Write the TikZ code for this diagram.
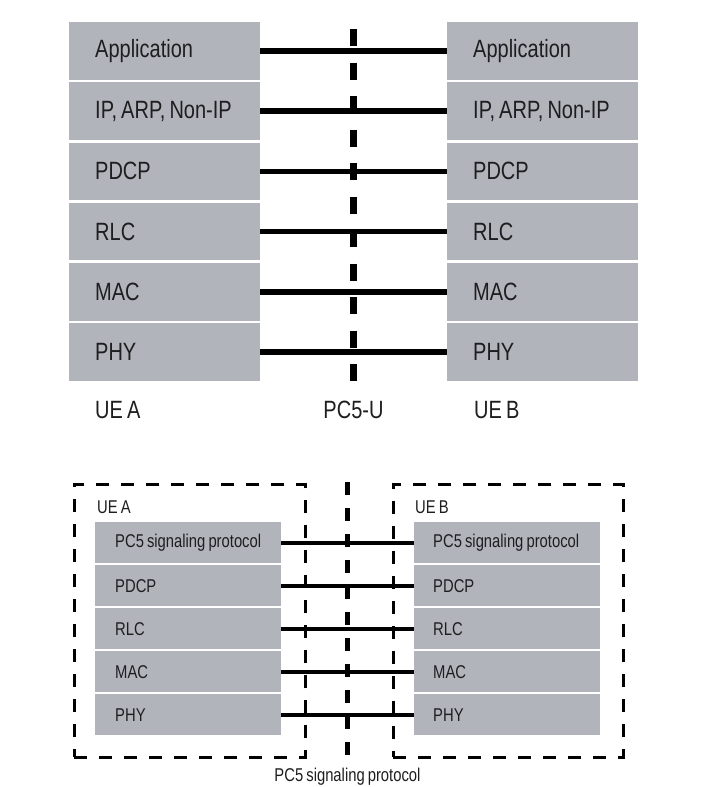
\documentclass[tikz,border=0pt]{standalone}
\usepackage{fontspec}
\setmainfont{Liberation Sans}[FakeStretch=0.8, WordSpace=0.75]
\newcommand{\boxtxt}[2]{\hbox to #1{#2\hfil}}
\begin{document}
\begin{tikzpicture}[x=1pt,y=-1pt,
  every node/.style={text=txt},
  bigbox/.style={fill=boxgray, anchor=north west, minimum width=191pt, minimum height=57.5pt,
    inner xsep=0pt, inner ysep=0pt, font=\fontsize{25}{29}\selectfont},
  smallbox/.style={fill=boxgray, anchor=north west, minimum width=186pt, minimum height=41pt,
    inner xsep=0pt, inner ysep=0pt, font=\fontsize{18.5}{22}\selectfont},
  biglabel/.style={font=\fontsize{25}{29}\selectfont, inner sep=0pt},
  smalllabel/.style={font=\fontsize{18.5}{22}\selectfont, inner sep=0pt},
  bigline/.style={line width=5.5pt, draw=black},
  smallline/.style={line width=3.6pt, draw=black},
  bigdash/.style={line width=7pt, draw=black, dash pattern=on 17pt off 16.5pt},
  middash/.style={line width=5.5pt, draw=black, dash pattern=on 13pt off 13pt},
  uebox/.style={draw=black, line width=2.6pt, dash pattern=on 13pt off 12pt, anchor=north west, inner sep=0pt},
]
\definecolor{boxgray}{RGB}{177,180,187}
\definecolor{txt}{RGB}{30,30,32}
\useasboundingbox (0,0) rectangle (718,787);
\fill[white] (0,0) rectangle (718,787);

% ---------- top stack ----------
\foreach \t [count=\i from 0] in {Application,{IP, ARP, Non-IP},PDCP,RLC,MAC,PHY}{
  \node[bigbox] (L\i) at (69,22+60.2*\i) {\boxtxt{139pt}{\t}};
  \node[bigbox] (R\i) at (447,22+60.2*\i) {\boxtxt{139pt}{\t}};
}
\coordinate (dtop) at (353.5,29);
\coordinate (dbot) at (353.5,381);
\draw[bigdash] (dtop) -- (dbot);
\foreach \i in {0,...,5}{
  \draw[bigline] (L\i.east) -- (R\i.west);
}
\node[biglabel, anchor=west] (uea) at (95,410) {UE A};
\node[biglabel] (pc5u) at (353.5,410) {PC5-U};
\node[biglabel, anchor=west] (ueb) at (474,410) {UE B};

% ---------- bottom stack ----------
\node[uebox, minimum width=231pt, minimum height=273pt] (boxA) at (73,483) {};
\node[uebox, minimum width=230pt, minimum height=273pt] (boxB) at (392,483) {};
\foreach \t [count=\i from 0] in {PC5 signaling protocol,PDCP,RLC,MAC,PHY}{
  \node[smallbox] (l\i) at (95,522+43*\i) {\boxtxt{146pt}{\t}};
  \node[smallbox] (r\i) at (414,522+43*\i) {\boxtxt{148pt}{\t}};
}
\coordinate (mtop) at (347.5,482);
\coordinate (mbot) at (347.5,757);
\draw[middash] (mtop) -- (mbot);
\foreach \i in {0,...,4}{
  \draw[smallline] (l\i.east) -- (r\i.west);
}
\node[smalllabel, anchor=west] (sa) at (97,507) {UE A};
\node[smalllabel, anchor=west] (sb) at (415,507) {UE B};
\node[smalllabel] (cap) at (347.5,777) {PC5 signaling protocol};
\end{tikzpicture}
\end{document}
